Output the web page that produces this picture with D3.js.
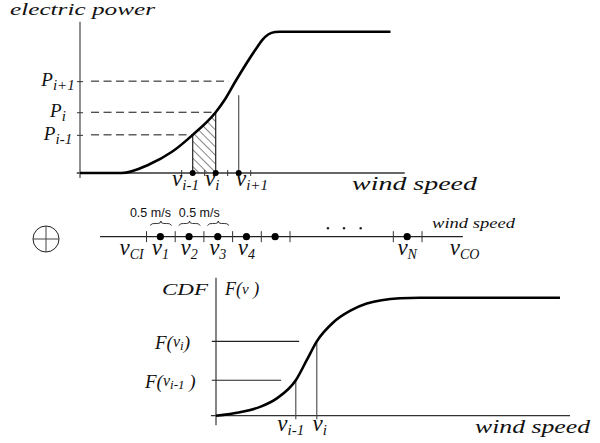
<!DOCTYPE html>
<html>
<head>
<meta charset="utf-8">
<script src="https://cdn.jsdelivr.net/npm/d3@7"></script>
<style>
  body { margin: 0; background: #fff; }
  svg { display: block; }
  .serif { font-family: "Liberation Serif", "DejaVu Serif", serif; font-style: italic; fill: #111; }
  .sans { font-family: "Liberation Sans", Arial, sans-serif; fill: #111; }
</style>
</head>
<body>
<svg width="600" height="443"></svg>
<script>
// ---- top panel: power curve (speed in m/s, power normalised to rated) ----
const powerSpeed  = [0, 0.9, 1.5, 2.0, 2.45, 2.95, 3.15, 3.4, 3.85, 3.96, 4.09, 4.24, 4.35, 6.75];
const powerOutput = [0, 0, 0.06, 0.15, 0.27, 0.43, 0.52, 0.66, 0.89, 0.94, 0.98, 0.998, 1, 1];
const binSpeed = [2.45, 2.95, 3.45];          // v_{i-1}, v_i, v_{i+1}
const binPower = [0.27, 0.43, 0.65];          // P_{i-1}, P_i, P_{i+1}
const binSub = ["i-1", "i", "i+1"];
const binLabelAt = [2.0, 2.72, 3.39];
const topTicks = [2.2, 2.7, 3.2, 3.7];

// ---- middle strip: discretised wind speed bins (m/s above cut-in) ----
const stripTicks = [0, 0.5, 1, 1.5, 2, 2.5, 4.3, 4.8];
const stripDots = [0.25, 0.75, 1.25, 1.75, 2.25, 4.55];
const stripLabelAt = [-0.25, 0.25, 0.75, 1.25, 1.75, 4.55, 5.55];
const stripSub = ["CI", "1", "2", "3", "4", "N", "CO"];
const ellipsisAt = [3.17, 3.45, 3.74];
const braceFrom = [0, 0.5, 1];
const braceText = ["0.5 m/s", "0.5 m/s"];
const braceTextAt = [-0.28, 0.57];

// ---- bottom panel: wind speed CDF ----
const cdfSpeed = [0, 0.57, 1.05, 1.44, 1.9, 2.16, 2.4, 2.79, 3.2, 3.59, 4.38, 4.86, 8.19];
const cdfValue = [0, 0.03, 0.075, 0.145, 0.30, 0.47, 0.63, 0.79, 0.89, 0.95, 0.995, 1, 1];
const cdfBinSpeed = [1.9, 2.4];
const cdfBinValue = [0.30, 0.63];
const cdfLineEnd = [1.55, 1.98];
const cdfSub = ["i-1", "i"];

const svg = d3.select("svg");

// scales
const xTop = d3.scaleLinear().domain([0, 7]).range([80, 402]);
const yTop = d3.scaleLinear().domain([0, 1]).range([173, 31.7]);
const xMid = d3.scaleLinear().domain([0, 0.5]).range([146, 174.7]);
const yMid = 236.7;
const xBot = d3.scaleLinear().domain([0, 8.5]).range([216, 573]);
const yBot = d3.scaleLinear().domain([0, 1]).range([415.7, 297.7]);

function subLabel(x, y, base, sub, size, subSize, anchor) {
  const t = svg.append("text").attr("class", "serif")
    .attr("x", x).attr("y", y).attr("font-size", size)
    .attr("text-anchor", anchor || "start");
  t.append("tspan").text(base);
  t.append("tspan").attr("dy", 4).attr("font-size", subSize).text(sub);
  return t;
}

function stretchText(x, y, str, size, len) {
  return svg.append("text").attr("class", "serif")
    .attr("x", x).attr("y", y).attr("font-size", size)
    .attr("textLength", len).attr("lengthAdjust", "spacingAndGlyphs")
    .text(str);
}

// hatch pattern
const defs = svg.append("defs");
defs.append("pattern")
  .attr("id", "hatch")
  .attr("patternUnits", "userSpaceOnUse")
  .attr("width", 6).attr("height", 6)
  .attr("patternTransform", "rotate(-45)")
  .append("line")
  .attr("x1", 0).attr("y1", 0).attr("x2", 0).attr("y2", 6)
  .attr("stroke", "#222").attr("stroke-width", 1.1);
defs.append("clipPath").attr("id", "binClip")
  .append("rect")
  .attr("x", xTop(binSpeed[0])).attr("y", 0)
  .attr("width", xTop(binSpeed[1]) - xTop(binSpeed[0]))
  .attr("height", yTop(0));

// ===== top panel =====
const powerData = powerSpeed.map((s, i) => [s, powerOutput[i]]);

svg.append("path")
  .datum(powerData)
  .attr("clip-path", "url(#binClip)")
  .attr("fill", "url(#hatch)")
  .attr("d", d3.area().curve(d3.curveMonotoneX)
    .x(d => xTop(d[0])).y0(yTop(0)).y1(d => yTop(d[1])));

// axes
svg.append("line")
  .attr("x1", xTop(-0.07)).attr("x2", xTop(7.06))
  .attr("y1", yTop(0)).attr("y2", yTop(0))
  .attr("stroke", "#333").attr("stroke-width", 1.3);
svg.append("line")
  .attr("x1", xTop(0)).attr("x2", xTop(0))
  .attr("y1", yTop(-0.035)).attr("y2", yTop(1.07))
  .attr("stroke", "#555").attr("stroke-width", 1.3);

svg.append("g")
  .attr("transform", `translate(0,${yTop(0) - 3})`)
  .call(d3.axisBottom(xTop).tickValues(topTicks).tickSize(6).tickFormat(""))
  .call(g => g.select(".domain").remove())
  .call(g => g.selectAll("line").attr("stroke", "#333"));

svg.append("g")
  .attr("transform", `translate(${xTop(0) + 3},0)`)
  .call(d3.axisLeft(yTop).tickValues(binPower).tickSize(6).tickFormat(""))
  .call(g => g.select(".domain").remove())
  .call(g => g.selectAll("line").attr("stroke", "#333"));

// dashed power levels
svg.selectAll(".plevel").data(binPower).enter().append("line")
  .attr("x1", xTop(0.24)).attr("x2", (d, i) => xTop(binSpeed[i]) - (i === 2 ? 10 : 0))
  .attr("y1", d => yTop(d)).attr("y2", d => yTop(d))
  .attr("stroke", "#111").attr("stroke-width", 1)
  .attr("stroke-dasharray", "8,4.5");

// verticals at the bin speeds
svg.selectAll(".vbin").data(binSpeed).enter().append("line")
  .attr("x1", d => xTop(d)).attr("x2", d => xTop(d))
  .attr("y1", (d, i) => yTop(i === 2 ? 0.55 : binPower[i]))
  .attr("y2", yTop(0))
  .attr("stroke", (d, i) => i === 2 ? "#555" : "#222")
  .attr("stroke-width", 1.2);

svg.append("path")
  .datum(powerData)
  .attr("fill", "none").attr("stroke", "#000").attr("stroke-width", 2.6)
  .attr("d", d3.line().curve(d3.curveMonotoneX)
    .x(d => xTop(d[0])).y(d => yTop(d[1])));

svg.selectAll(".dtop").data(binSpeed).enter().append("circle")
  .attr("cx", d => xTop(d)).attr("cy", yTop(0)).attr("r", 3).attr("fill", "#000");

stretchText(10, 15, "electric power", 17, 145);
stretchText(352, 190, "wind speed", 19, 125);

binPower.forEach((p, i) => subLabel(58, yTop(p) + 5, "P", binSub[i], 19, 15, "middle"));
binSpeed.forEach((s, i) => subLabel(xTop(binLabelAt[i]), 186, "v", binSub[i], 23, 15));

// ===== middle strip =====
svg.append("line")
  .attr("x1", xMid(-0.8)).attr("x2", xMid(5.52))
  .attr("y1", yMid).attr("y2", yMid)
  .attr("stroke", "#222").attr("stroke-width", 1.3);

svg.append("g")
  .attr("transform", `translate(0,${yMid - 5.5})`)
  .call(d3.axisBottom(xMid).tickValues(stripTicks).tickSize(11).tickFormat(""))
  .call(g => g.select(".domain").remove())
  .call(g => g.selectAll("line").attr("stroke", "#333"));

svg.selectAll(".dmid").data(stripDots).enter().append("circle")
  .attr("cx", d => xMid(d)).attr("cy", yMid).attr("r", 3.6).attr("fill", "#000");

svg.selectAll(".ell").data(ellipsisAt).enter().append("circle")
  .attr("cx", d => xMid(d)).attr("cy", yMid - 8.5).attr("r", 1.2).attr("fill", "#222");

// braces over the first bins
svg.selectAll(".brace").data(braceFrom).enter().append("path")
  .attr("fill", "none").attr("stroke", "#222").attr("stroke-width", 0.9)
  .attr("d", d => {
    const a = xMid(d) + 4, b = xMid(d + 0.5) - 3, m = (a + b) / 2, y = 224;
    return `M${a},${y + 1.5} Q${a + 2},${y - 1} ${a + 5},${y - 0.5} L${m - 3},${y - 0.5}` +
      ` Q${m},${y - 0.5} ${m},${y - 3} Q${m},${y - 0.5} ${m + 3},${y - 0.5}` +
      ` L${b - 5},${y - 0.5} Q${b - 2},${y - 1} ${b},${y + 1.5}`;
  });

braceText.forEach((t, i) => svg.append("text").attr("class", "sans")
  .attr("x", xMid(braceTextAt[i])).attr("y", 217).attr("font-size", 12.5).text(t));

stripSub.forEach((s, i) => subLabel(xMid(stripLabelAt[i]), 255, "v", s, 23, 14, "middle"));
stretchText(432, 228, "wind speed", 15, 83);

// circled plus
svg.append("circle").attr("cx", 46).attr("cy", 239).attr("r", 13)
  .attr("fill", "none").attr("stroke", "#222").attr("stroke-width", 1);
svg.append("path").attr("d", "M33,239H59M46,226V252")
  .attr("stroke", "#444").attr("stroke-width", 1);

// ===== bottom panel =====
const cdfData = cdfSpeed.map((s, i) => [s, cdfValue[i]]);

svg.append("line")
  .attr("x1", xBot(-0.12)).attr("x2", xBot(8.43))
  .attr("y1", yBot(0)).attr("y2", yBot(0))
  .attr("stroke", "#333").attr("stroke-width", 1.3);
svg.append("line")
  .attr("x1", xBot(0)).attr("x2", xBot(0))
  .attr("y1", yBot(-0.08)).attr("y2", yBot(1.17))
  .attr("stroke", "#444").attr("stroke-width", 1.3);

svg.selectAll(".flev").data(cdfBinValue).enter().append("line")
  .attr("x1", xBot(-0.1)).attr("x2", (d, i) => xBot(cdfLineEnd[i]))
  .attr("y1", d => yBot(d)).attr("y2", d => yBot(d))
  .attr("stroke", "#222").attr("stroke-width", 1.1);

svg.selectAll(".vcdf").data(cdfBinSpeed).enter().append("line")
  .attr("x1", d => xBot(d)).attr("x2", d => xBot(d))
  .attr("y1", (d, i) => yBot(cdfBinValue[i])).attr("y2", yBot(-0.03))
  .attr("stroke", "#444").attr("stroke-width", 1.1);

svg.append("path")
  .datum(cdfData)
  .attr("fill", "none").attr("stroke", "#000").attr("stroke-width", 2.6)
  .attr("d", d3.line().curve(d3.curveMonotoneX)
    .x(d => xBot(d[0])).y(d => yBot(d[1])));

stretchText(162, 295, "CDF", 16, 46);
const fv = svg.append("text").attr("class", "serif").attr("x", 225).attr("y", 295).attr("font-size", 18);
fv.append("tspan").text("F(");
fv.append("tspan").attr("font-size", 15).attr("dy", -1).text("ν");
fv.append("tspan").attr("dy", 1).text(" )");

const fLabelStart = [145, 155];
cdfBinValue.forEach((v, i) => {
  const t = svg.append("text").attr("class", "serif")
    .attr("x", fLabelStart[i]).attr("y", yBot(v) + 8).attr("font-size", 19);
  t.append("tspan").text("F(");
  t.append("tspan").attr("font-size", 16).attr("dy", -2).text("ν");
  t.append("tspan").attr("font-size", 13).attr("dy", 3).text(cdfSub[i]);
  t.append("tspan").attr("dy", -1).text(i === 0 ? " )" : ")");
});

cdfBinSpeed.forEach((s, i) => subLabel(xBot(s) + (i === 0 ? -5 : 3), 431, "v", cdfSub[i], 23, 15, "middle"));
stretchText(475, 433, "wind speed", 19, 115);
</script>
</body>
</html>
